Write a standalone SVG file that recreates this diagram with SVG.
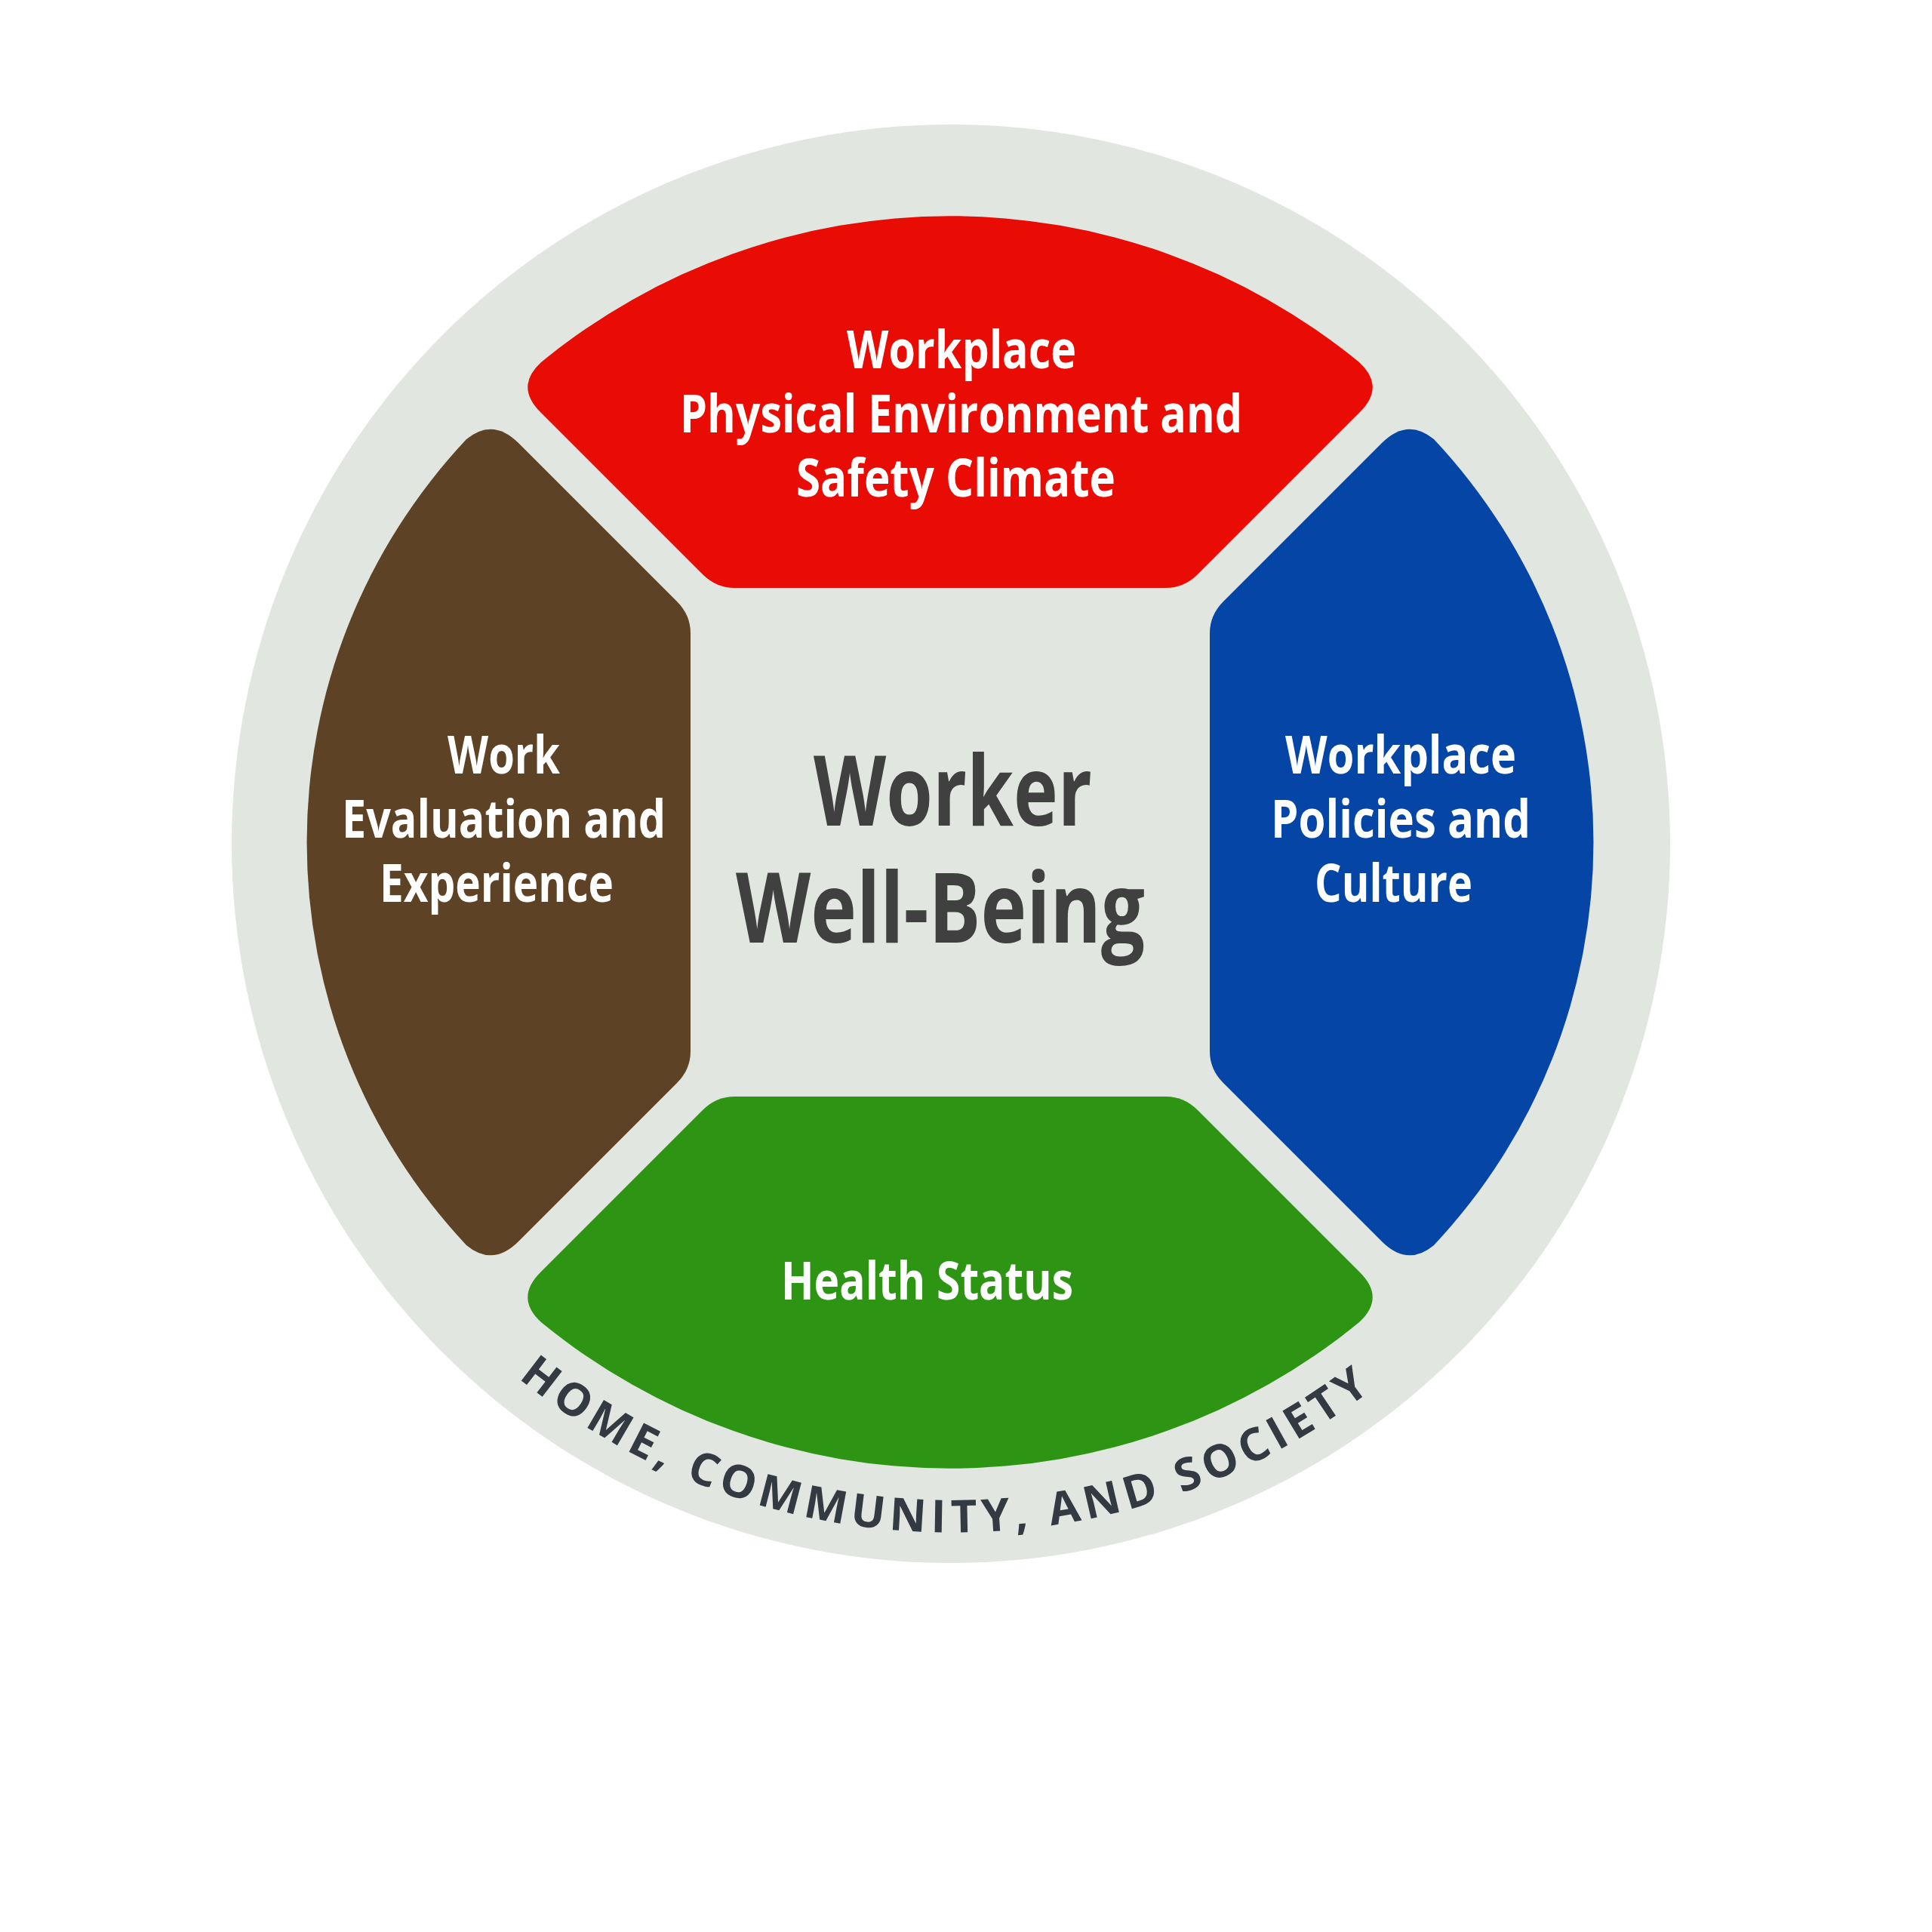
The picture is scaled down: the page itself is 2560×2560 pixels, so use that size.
<svg xmlns="http://www.w3.org/2000/svg" width="2560" height="2560" viewBox="0 0 2560 2560">
<style>
.lbl{font-family:"Open Sans","Liberation Sans",sans-serif;font-weight:700;font-size:70px;fill:#ffffff}
.core{font-family:"Open Sans","Liberation Sans",sans-serif;font-weight:700;font-size:130px;fill:#404040}
.ring{font-family:"Open Sans","Liberation Sans",sans-serif;font-weight:700;font-size:60px;fill:#333a42;letter-spacing:7px}
</style>
<defs>
<path id="ringPath" d="M 686.7,1826 A 911 911 0 0 0 1960,1705"/>
</defs>
<rect width="2560" height="2560" fill="#ffffff"/>
<g id="society">
<circle cx="1260" cy="1118" r="953" fill="#e1e6e1"/>
<text class="ring"><textPath href="#ringPath">HOME, COMMUNITY, AND SOCIETY</textPath></text>
</g>
<g id="physical-environment">
<path fill="#e80c04" d="M 716,546 Q 682,512 717,480 A 855 855 0 0 1 1801,480 Q 1836,512 1802,546 L 1587,761 Q 1569,779 1545,779 L 973,779 Q 949,779 931,761 Z"/>
<text class="lbl" x="1122" y="488" textLength="304" lengthAdjust="spacingAndGlyphs">Workplace</text>
<text class="lbl" x="901" y="573" textLength="745" lengthAdjust="spacingAndGlyphs">Physical Environment and</text>
<text class="lbl" x="1055" y="658" textLength="423" lengthAdjust="spacingAndGlyphs">Safety Climate</text>
</g>
<g id="work-evaluation">
<path fill="#5d4225" d="M 687,587 L 897,797 Q 915,815 915,839 L 915,1393 Q 915,1417 897,1435 L 687,1645 Q 653,1679 618,1650 A 780 780 0 0 1 618,582 Q 653,553 687,587 Z"/>
<text class="lbl" x="593" y="1025" textLength="149" lengthAdjust="spacingAndGlyphs">Work</text>
<text class="lbl" x="453" y="1110" textLength="429" lengthAdjust="spacingAndGlyphs">Evaluation and</text>
<text class="lbl" x="503" y="1195" textLength="310" lengthAdjust="spacingAndGlyphs">Experience</text>
</g>
<g id="policies-culture">
<path fill="#0445a6" d="M 1831,587 L 1621,797 Q 1603,815 1603,839 L 1603,1393 Q 1603,1417 1621,1435 L 1831,1645 Q 1865,1679 1900,1650 A 780 780 0 0 0 1900,582 Q 1865,553 1831,587 Z"/>
<text class="lbl" x="1703" y="1025" textLength="306" lengthAdjust="spacingAndGlyphs">Workplace</text>
<text class="lbl" x="1684" y="1110" textLength="344" lengthAdjust="spacingAndGlyphs">Policies and</text>
<text class="lbl" x="1742" y="1195" textLength="209" lengthAdjust="spacingAndGlyphs">Culture</text>
</g>
<g id="health-status">
<path fill="#2e9414" d="M 716,1686 Q 682,1720 717,1752 A 855 855 0 0 0 1801,1752 Q 1836,1720 1802,1686 L 1587,1471 Q 1569,1453 1545,1453 L 973,1453 Q 949,1453 931,1471 Z"/>
<text class="lbl" x="1035" y="1722" textLength="387" lengthAdjust="spacingAndGlyphs">Health Status</text>
</g>
<g id="worker-well-being">
<text class="core" x="1078" y="1094" textLength="369" lengthAdjust="spacingAndGlyphs">Worker</text>
<text class="core" x="975" y="1249" textLength="542" lengthAdjust="spacingAndGlyphs">Well-Being</text>
</g>
<g id="connectors"/>
</svg>
